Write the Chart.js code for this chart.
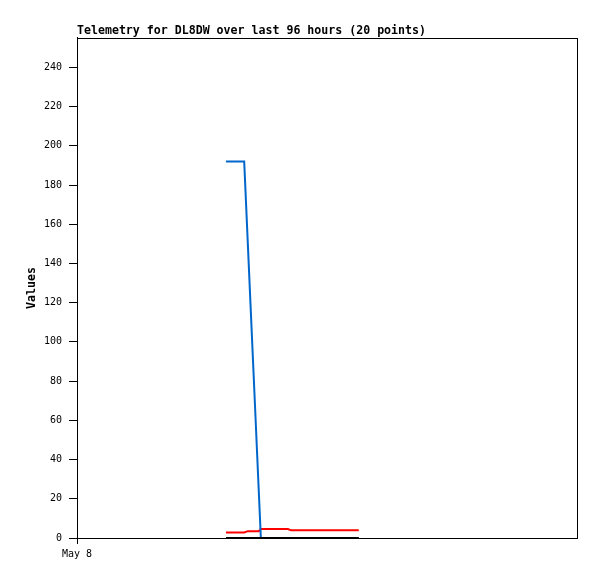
<!DOCTYPE html>
<html>
<head>
<meta charset="utf-8">
<script src="https://cdn.jsdelivr.net/npm/chart.js@4/dist/chart.umd.min.js"></script>
<style>
  html, body { margin: 0; padding: 0; background: #fff; }
  canvas { display: block; }
</style>
</head>
<body>
<canvas id="telemetryChart" width="597" height="579"></canvas>
<script>
// hours since May 8 00:00
const hours = [28.6, 30.2, 31.5, 32.1, 32.8, 33.9, 34.9, 35.3, 36.6, 38.0,
               39.3, 40.5, 41.1, 43.2, 45.3, 47.4, 49.5, 51.2, 52.7, 54.1];
const blueValues = [192, 192, 192, 192, 150, 84, 24, 0, 0, 0,
                    0, 0, 0, 0, 0, 0, 0, 0, 0, 0];
const redValues = [2.8, 2.8, 2.8, 2.8, 3.5, 3.5, 3.5, 4.6, 4.6, 4.6,
                   4.6, 4.6, 3.9, 3.9, 3.9, 3.9, 3.9, 3.9, 3.9, 3.9];
const blackValues = [0, 0, 0, 0, 0, 0, 0, 0, 0, 0,
                     0, 0, 0, 0, 0, 0, 0, 0, 0, 0];
const xTickLabels = ['May 8'];

const toPoints = vals => vals.map((v, i) => ({ x: hours[i], y: v }));
const mono = 'DejaVu Sans Mono, monospace';

// box around the plot area
const frame = {
    id: 'frame',
    afterDraw(chart) {
        const a = chart.chartArea;
        const c = chart.ctx;
        c.save();
        c.strokeStyle = '#000';
        c.lineWidth = 1;
        c.strokeRect(Math.round(a.left) + 0.5, Math.round(a.top) + 0.5,
                     Math.round(a.right - a.left), Math.round(a.bottom - a.top));
        c.restore();
    }
};

const ctx = document.getElementById('telemetryChart').getContext('2d');

new Chart(ctx, {
    type: 'line',
    data: {
        datasets: [
            { data: toPoints(blackValues), borderColor: '#000000', borderWidth: 2, clip: false },
            { data: toPoints(blueValues), borderColor: '#0066cc', borderWidth: 2 },
            { data: toPoints(redValues), borderColor: '#ff0000', borderWidth: 2 }
        ]
    },
    options: {
        responsive: false,
        animation: false,
        elements: { point: { radius: 0 }, line: { tension: 0 } },
        layout: { padding: { left: 0, right: 20, top: 0, bottom: 0 } },
        scales: {
            x: {
                type: 'linear',
                min: 0,
                max: 96,
                afterBuildTicks: scale => { scale.ticks = [{ value: 0 }]; },
                afterFit: scale => { scale.height = 41; },
                ticks: {
                    callback: (v, i) => xTickLabels[i],
                    font: { family: mono, size: 10 },
                    color: '#000',
                    padding: 4,
                    maxRotation: 0
                },
                grid: { drawOnChartArea: false, tickLength: 6, color: '#000' },
                border: { color: '#000' }
            },
            y: {
                min: 0,
                max: 255,
                afterBuildTicks: scale => {
                    scale.ticks = scale.ticks.filter(t => t.value % 20 === 0);
                },
                afterFit: scale => { scale.width = 77; },
                ticks: {
                    stepSize: 20,
                    font: { family: mono, size: 10 },
                    color: '#000',
                    padding: 7
                },
                grid: { drawOnChartArea: false, tickLength: 8, color: '#000' },
                border: { color: '#000' },
                title: {
                    display: true,
                    text: 'Values',
                    font: { family: mono, size: 11.6, weight: 'bold' },
                    color: '#000',
                    padding: { top: 25, bottom: 0 }
                }
            }
        },
        plugins: {
            legend: { display: false },
            tooltip: { enabled: false },
            title: {
                display: true,
                text: 'Telemetry for DL8DW over last 96 hours (20 points)',
                align: 'start',
                fullSize: false,
                color: '#000',
                font: { family: mono, size: 11.6, weight: 'bold', lineHeight: 1.2 },
                padding: { top: 24, bottom: 0 }
            }
        }
    },
    plugins: [frame]
});
</script>
</body>
</html>
